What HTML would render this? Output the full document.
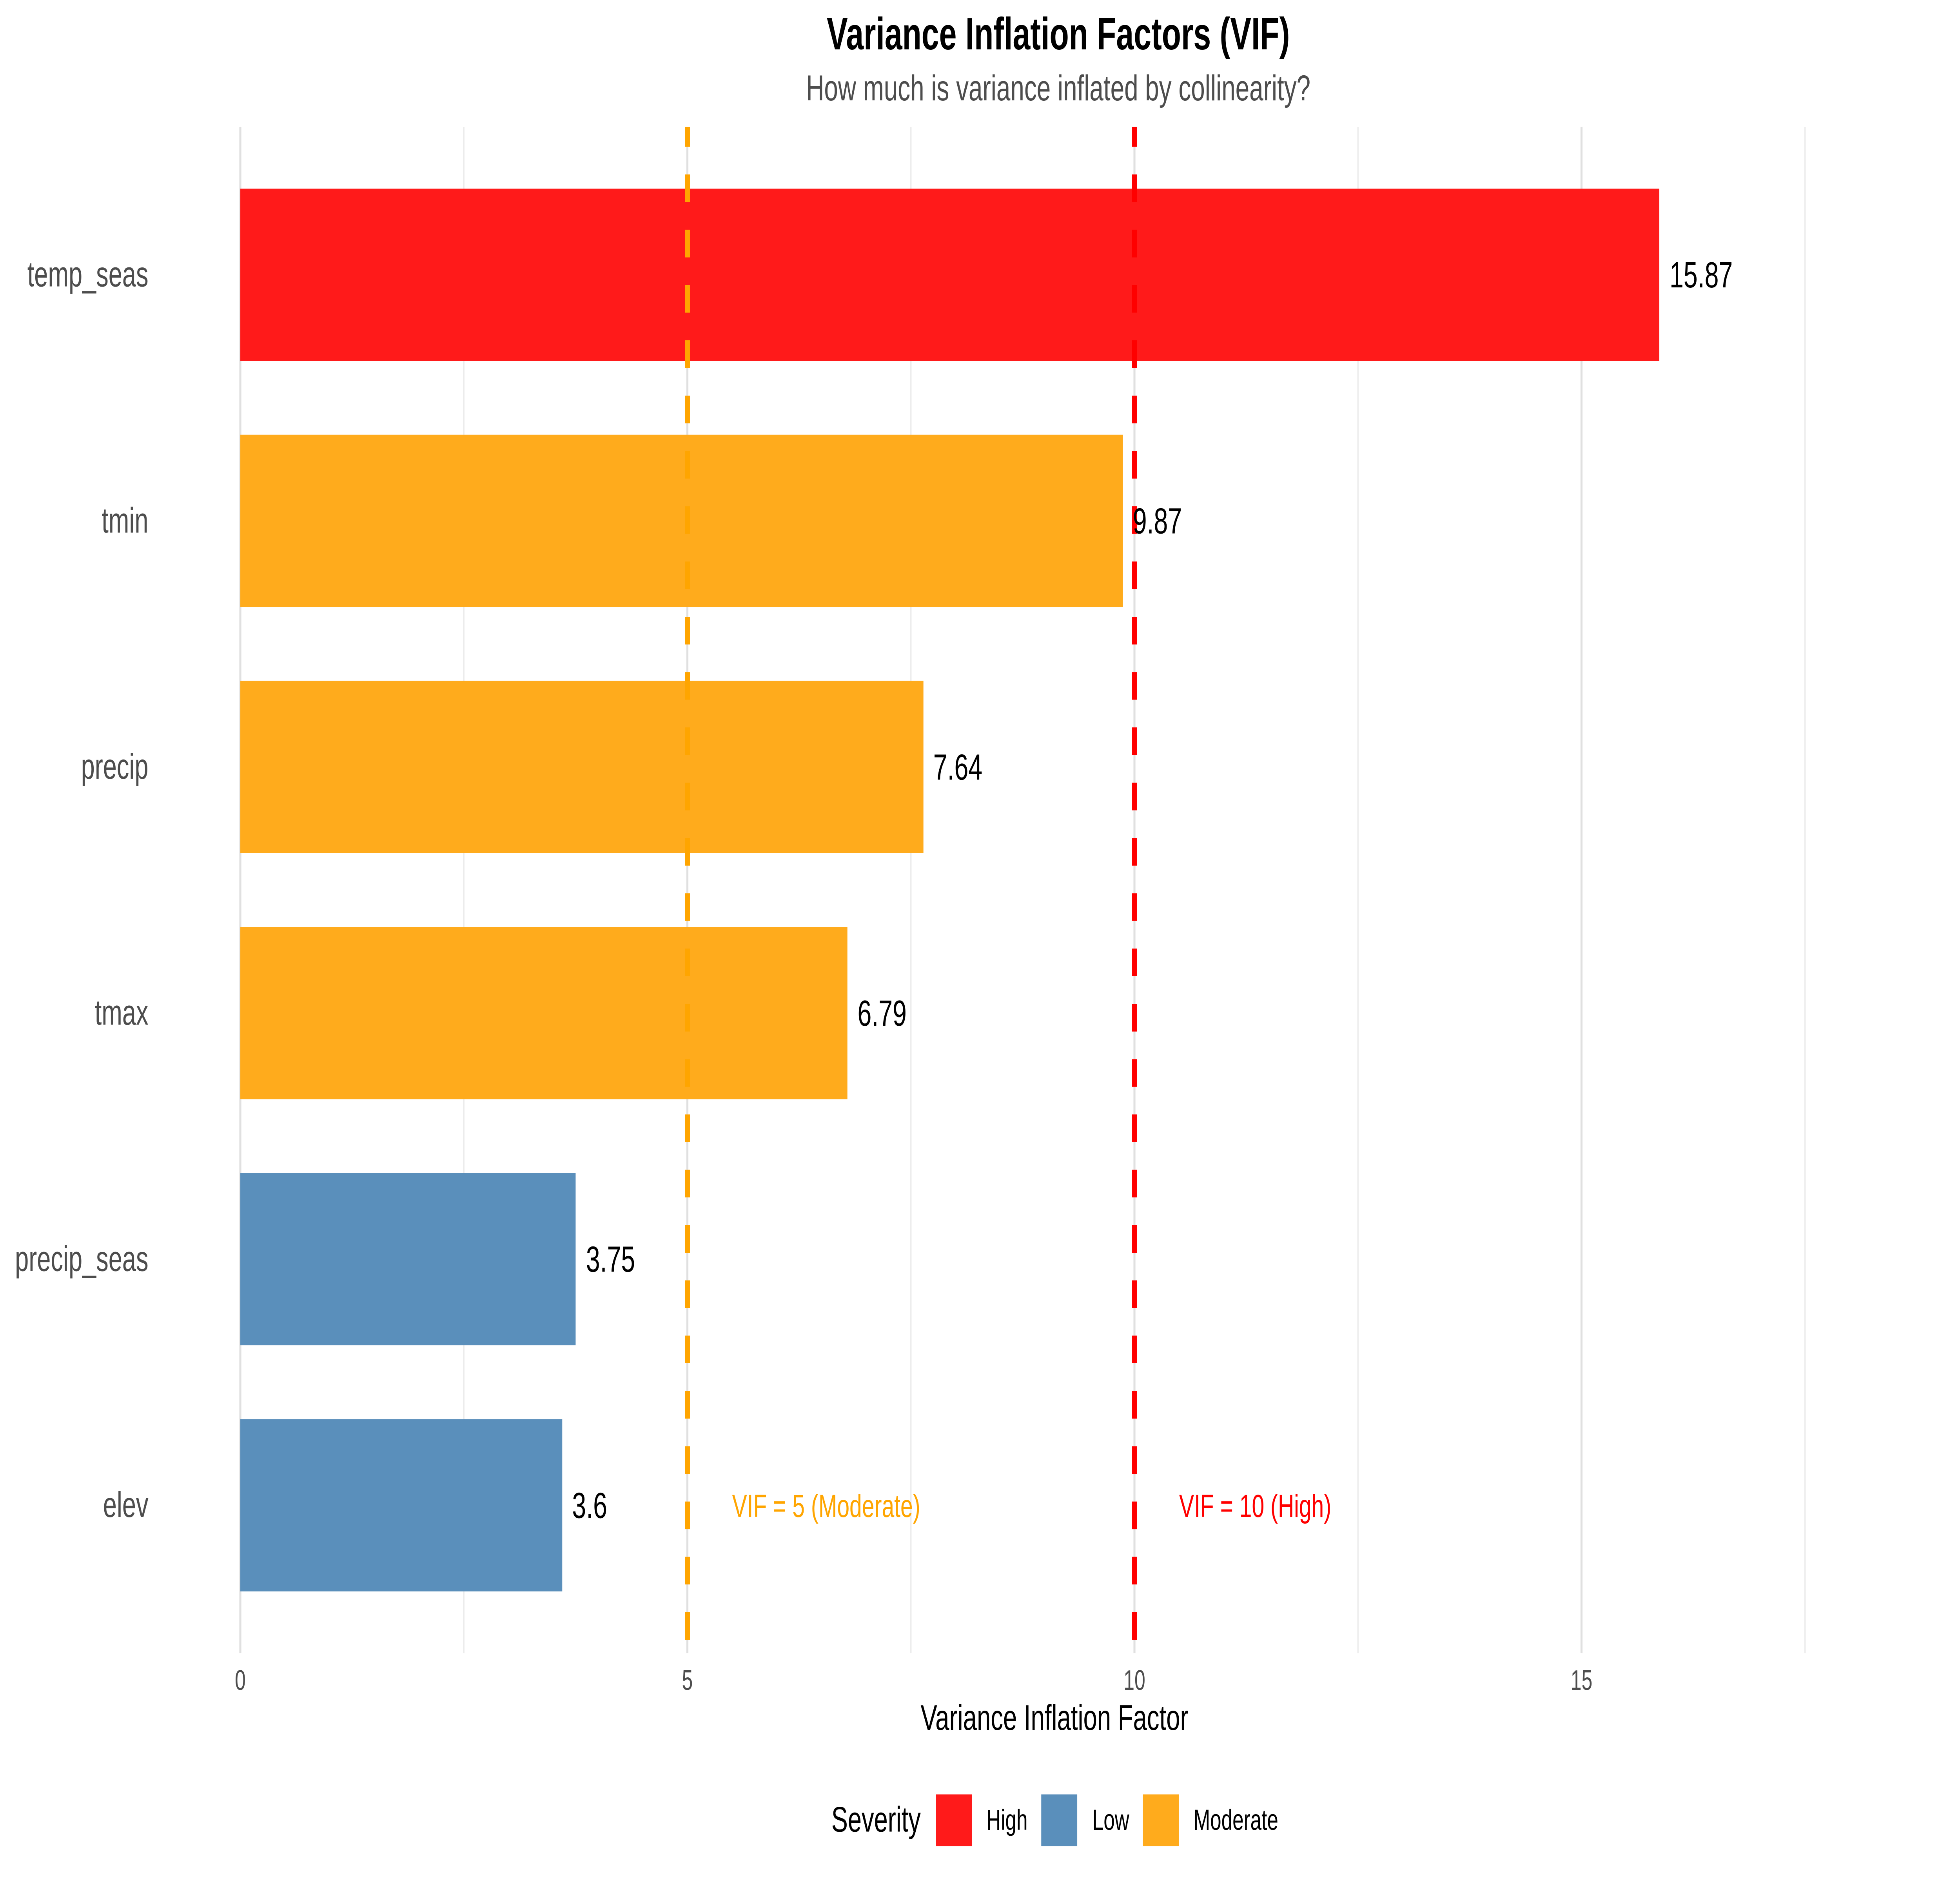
<!DOCTYPE html>
<html><head><meta charset="utf-8"><style>html,body{margin:0;padding:0;background:#fff;overflow:hidden;width:100vw;height:100vh}svg{display:block;width:100vw;height:100vh}</style></head>
<body>
<svg xmlns="http://www.w3.org/2000/svg" viewBox="0 0 1552 1034.67" preserveAspectRatio="none" font-family="Liberation Sans, sans-serif">
<rect width="1552" height="1034.67" fill="#fff"/>
<g stroke="#ebebeb" stroke-width="1">
<line x1="367.3" y1="69.8" x2="367.3" y2="908.8"/><line x1="721.3" y1="69.8" x2="721.3" y2="908.8"/><line x1="1075.3" y1="69.8" x2="1075.3" y2="908.8"/><line x1="1429.3" y1="69.8" x2="1429.3" y2="908.8"/>
</g>
<g stroke="#e0e0e0" stroke-width="1.6">
<line x1="190.3" y1="69.8" x2="190.3" y2="908.8"/><line x1="544.3" y1="69.8" x2="544.3" y2="908.8"/><line x1="898.3" y1="69.8" x2="898.3" y2="908.8"/><line x1="1252.3" y1="69.8" x2="1252.3" y2="908.8"/>
</g>
<rect x="190.3" y="103.7" width="1123.6" height="94.7" fill="#FF1A1A"/>
<rect x="190.3" y="239" width="698.8" height="94.7" fill="#FFAB1C"/>
<rect x="190.3" y="374.3" width="540.9" height="94.7" fill="#FFAB1C"/>
<rect x="190.3" y="509.6" width="480.7" height="94.7" fill="#FFAB1C"/>
<rect x="190.3" y="644.9" width="265.5" height="94.7" fill="#5A8FBB"/>
<rect x="190.3" y="780.2" width="254.9" height="94.7" fill="#5A8FBB"/>
<line x1="544.3" y1="69.8" x2="544.3" y2="908.8" stroke="#FFA500" stroke-width="4" stroke-dasharray="15.2,15.2" stroke-dashoffset="4.3"/>
<line x1="898.3" y1="69.8" x2="898.3" y2="908.8" stroke="#FF0000" stroke-width="4" stroke-dasharray="15.2,15.2" stroke-dashoffset="4.3"/>
<g font-size="20" fill="#000">
<text x="1322" y="158">15.87</text><text x="897" y="293.3">9.87</text><text x="739" y="428.6">7.64</text><text x="679" y="563.9">6.79</text><text x="464" y="699.2">3.75</text><text x="453" y="834.5">3.6</text>
</g>
<g font-size="19.6" fill="#4d4d4d" text-anchor="end">
<text x="117.5" y="157.5">temp_seas</text><text x="117.5" y="292.8">tmin</text><text x="117.5" y="428.1">precip</text><text x="117.5" y="563.4">tmax</text><text x="117.5" y="698.7">precip_seas</text><text x="117.5" y="834">elev</text>
</g>
<text x="579.7" y="834" font-size="17.7" fill="#FFA500">VIF = 5 (Moderate)</text>
<text x="933.7" y="834" font-size="17.7" fill="#FF0000">VIF = 10 (High)</text>
<g font-size="15.5" fill="#4d4d4d" text-anchor="middle">
<text x="190.3" y="929">0</text><text x="544.3" y="929">5</text><text x="898.3" y="929">10</text><text x="1252.3" y="929">15</text>
</g>
<text x="835" y="951" font-size="19.7" text-anchor="middle" fill="#000">Variance Inflation Factor</text>
<text x="838" y="27.2" font-size="25" font-weight="bold" text-anchor="middle" fill="#000">Variance Inflation Factors (VIF)</text>
<text x="838" y="55.2" font-size="19.8" text-anchor="middle" fill="#4d4d4d">How much is variance inflated by collinearity?</text>
<text x="658.3" y="1007" font-size="19.6" fill="#000">Severity</text>
<rect x="741" y="986.5" width="28.5" height="28.5" fill="#FF1A1A"/>
<text x="781" y="1006" font-size="15.9">High</text>
<rect x="824.5" y="986.5" width="28.5" height="28.5" fill="#5A8FBB"/>
<text x="865" y="1006" font-size="15.9">Low</text>
<rect x="905" y="986.5" width="28.5" height="28.5" fill="#FFAB1C"/>
<text x="945" y="1006" font-size="15.9">Moderate</text>
</svg>
</body></html>
